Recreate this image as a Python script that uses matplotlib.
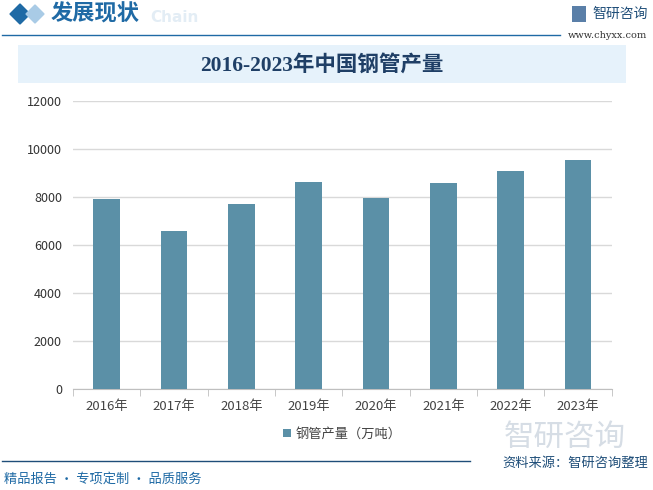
import numpy as np
import matplotlib.pyplot as plt
from matplotlib.patches import Rectangle, Polygon

plt.rcParams['font.family'] = ['Noto Sans CJK SC', 'DejaVu Sans']

# data
years = ['2016年', '2017年', '2018年', '2019年', '2020年', '2021年', '2022年', '2023年']
output = [7930, 6605, 7730, 8640, 7985, 8600, 9100, 9555]
series_name = '钢管产量（万吨）'
title = '2016-2023年中国钢管产量'
y_ticks = [0, 2000, 4000, 6000, 8000, 10000, 12000]

W, H = 653, 490
fig = plt.figure(figsize=(W / 100, H / 100), dpi=100)
fig.patch.set_facecolor('white')

def fx(px):
    return px / W

def fy(py):
    return 1 - py / H

# header
fig.patches.append(Polygon([[fx(10), fy(14)], [fx(20), fy(4)], [fx(30), fy(14)], [fx(20), fy(24)]],
                           closed=True, transform=fig.transFigure, color='#1f6aa5'))
fig.patches.append(Polygon([[fx(26), fy(14)], [fx(35), fy(5)], [fx(44), fy(14)], [fx(35), fy(23)]],
                           closed=True, transform=fig.transFigure, color='#a9cbe6'))
fig.text(fx(150), fy(18), 'Chain', fontsize=11, fontweight='bold', color='#e3edf5',
         ha='left', va='center', family='DejaVu Sans')
fig.text(fx(51), fy(14), '发展现状', fontsize=16, fontweight='bold', color='#1f6aa5',
         ha='left', va='center')
fig.add_artist(plt.Line2D([fx(2), fx(560)], [fy(35), fy(35)], transform=fig.transFigure,
                          color='#1f6aa5', lw=1))
fig.text(fx(592), fy(14), '智研咨询', fontsize=10, color='#1f4e79', ha='left', va='center')
fig.add_artist(Rectangle((fx(572), fy(22)), 14 / W, 16 / H, transform=fig.transFigure,
                         facecolor='#5a7fa8', edgecolor='none'))
fig.text(fx(568), fy(36), 'www.chyxx.com', fontsize=7, color='#333333', ha='left', va='center',
         family='DejaVu Serif')

# title box
fig.add_artist(Rectangle((fx(18), fy(83)), 608 / W, 38 / H, transform=fig.transFigure,
                         facecolor='#e6f2fb', edgecolor='none'))
fig.text(fx(322), fy(65), title, fontsize=15.5, fontweight='bold', color='#1f3f66',
         ha='center', va='center', family=['Liberation Serif', 'Noto Sans CJK SC'])

# watermark logo
fig.text(fx(565), fy(437), '智研咨询', fontsize=22, color='#d6dde5', ha='center', va='center')

# chart
ax = fig.add_axes([fx(73), fy(389.3), (611.7 - 73) / W, (389.3 - 101.3) / H])
x = np.arange(len(years))
ax.bar(x, output, width=0.4, color='#5b90a7', zorder=3, label=series_name)
ax.set_xlim(-0.5, len(years) - 0.5)
ax.set_ylim(0, 12000)
ax.set_yticks(y_ticks)
ax.set_yticklabels([str(v) for v in y_ticks], fontsize=9, color='#333333')
ax.set_xticks(x)
ax.set_xticklabels(years, fontsize=9.5, color='#444444')
ax.set_xticks(np.arange(len(years) + 1) - 0.5, minor=True)
ax.tick_params(axis='x', which='major', length=0, pad=8)
ax.tick_params(axis='x', which='minor', length=5, color='#bfbfbf')
ax.tick_params(axis='y', length=0, pad=8)
ax.grid(axis='y', color='#d9d9d9', lw=1, zorder=0)
for s in ['top', 'right', 'left']:
    ax.spines[s].set_visible(False)
ax.spines['bottom'].set_color('#bfbfbf')
ax.set_facecolor('none')

leg = ax.legend(loc='center', bbox_to_anchor=(0.5, (389.3 - 434) / 288), frameon=False,
                fontsize=9.5, handlelength=0.6, handleheight=0.6, handletextpad=0.4)
for t in leg.get_texts():
    t.set_color('#444444')

# footer
fig.add_artist(plt.Line2D([fx(2), fx(470)], [fy(461), fy(461)], transform=fig.transFigure,
                          color='#1f4e79', lw=1))
fig.text(fx(648), fy(463), '资料来源：智研咨询整理', fontsize=9.5, color='#1f4e79',
         ha='right', va='center')
fig.text(fx(4), fy(479), '精品报告 · 专项定制 · 品质服务', fontsize=9.5, color='#1f6aa5',
         ha='left', va='center')

fig.savefig('out.png', dpi=100)
